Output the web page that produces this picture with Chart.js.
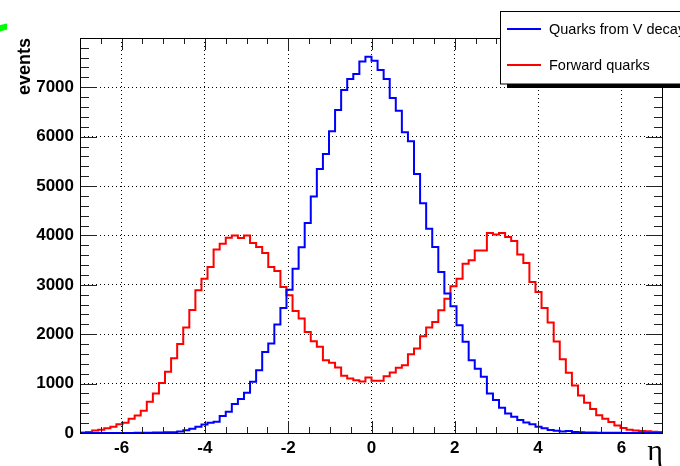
<!DOCTYPE html>
<html>
<head>
<meta charset="utf-8">
<script src="https://cdn.jsdelivr.net/npm/chart.js@4.4.1/dist/chart.umd.min.js"></script>
<style>
  html, body { margin: 0; padding: 0; background: #fff; }
  #wrap { width: 680px; height: 466px; position: relative; }
</style>
</head>
<body>
<div id="wrap"><canvas id="myChart" width="680" height="466"></canvas></div>
<script>
// histogram binning (eta from -7 to 7)
const etaMin = -7;
const etaMax = 7;
const nBins = 96;

// events per bin
const quarksFromV = [
    0, 0, 0, 0, 1, 1, 1, 2, 2, 3,
    4, 5, 9, 11, 13, 15, 28, 55, 88,
    128, 170, 210, 230, 345, 430, 585, 690, 815, 1036, 1270, 1640, 1810, 2195, 2530, 2900, 3325, 3760, 4250,
    4788, 5347, 5650, 6107, 6539, 6943, 7165, 7266, 7522, 7616, 7535, 7347, 7165, 6781, 6525, 6087, 5905, 5246, 4653, 4135,
    3764, 3259, 2822, 2566, 2182, 1845, 1475, 1300, 1138, 801, 667, 512, 397, 330, 263, 215, 175, 128, 94,
    61, 45, 30, 42, 20, 14, 10, 8, 6, 5, 4, 3, 2, 2, 1, 1, 1, 0, 0
];
const forwardQuarks = [
    12, 18, 50, 65, 95, 125, 175, 210, 290, 355, 448, 633, 800, 1012, 1240, 1513, 1802, 2138, 2488,
    2889, 3125, 3360, 3717, 3832, 3953, 4000, 3946, 4000, 3845, 3764, 3643, 3360, 3279, 2956, 2788, 2471, 2317, 2047,
    1860, 1745, 1475, 1420, 1327, 1158, 1105, 1070, 1044, 1125, 1057, 1057, 1150, 1226, 1320, 1374, 1596, 1711, 1960, 2135,
    2249, 2485, 2720, 2970, 3125, 3428, 3495, 3697, 3697, 4047, 4020, 4047, 3966, 3886, 3616, 3441, 3057, 2855, 2532,
    2236, 1852, 1495, 1219, 960, 760, 610, 485, 360, 290, 225, 150, 100, 65, 50, 40, 35, 25, 20
];

const seriesNames = ['Quarks from V decay', 'Forward quarks'];
const xTicks = [-6, -4, -2, 0, 2, 4, 6];
const yTicks = [0, 1000, 2000, 3000, 4000, 5000, 6000, 7000];
const yMax = 7997;

const labelFont = '"Liberation Sans", Arial, sans-serif';

// bin contents -> step outline points at the low edge of each bin
const toSteps = (values) => {
    const w = (etaMax - etaMin) / nBins;
    const pts = values.map((v, i) => ({ x: etaMin + i * w, y: v }));
    pts.push({ x: etaMax, y: values[values.length - 1] });
    return pts;
};

const rootStyle = {
    id: 'rootStyle',
    afterDatasetsDraw(chart) {
        const ctx = chart.ctx;
        const a = chart.chartArea;
        const xs = chart.scales.x;
        const ys = chart.scales.y;
        ctx.save();
        ctx.strokeStyle = '#222';
        ctx.lineWidth = 1;
        ctx.beginPath();
        // x ticks (bottom + top)
        for (let v = -6.5; v <= 6.5; v += 0.5) {
            const px = Math.round(xs.getPixelForValue(v)) + 0.5;
            const len = (v % 2 === 0) ? 12 : 6;
            ctx.moveTo(px, a.bottom);
            ctx.lineTo(px, a.bottom - len);
            ctx.moveTo(px, a.top);
            ctx.lineTo(px, a.top + len);
        }
        // y ticks (left + right)
        for (let v = 0; v <= 7800; v += 200) {
            const py = Math.round(ys.getPixelForValue(v)) + 0.5;
            const len = (v % 1000 === 0) ? 17 : 9;
            ctx.moveTo(a.left, py);
            ctx.lineTo(a.left + len, py);
            ctx.moveTo(a.right, py);
            ctx.lineTo(a.right - len, py);
        }
        ctx.stroke();
        ctx.strokeStyle = '#000';
        ctx.strokeRect(a.left + 0.5, a.top + 0.5, a.right - a.left - 1, a.bottom - a.top);
        ctx.restore();
    },
    afterDraw(chart) {
        const ctx = chart.ctx;
        ctx.save();

        // green mark in the corner
        ctx.fillStyle = '#00ff00';
        ctx.beginPath();
        ctx.moveTo(0, 25);
        ctx.lineTo(7, 23.5);
        ctx.lineTo(7, 29.5);
        ctx.lineTo(0, 31.5);
        ctx.closePath();
        ctx.fill();

        // legend with shadow
        ctx.fillStyle = '#000';
        ctx.fillRect(507, 84, 200, 4);
        ctx.fillStyle = '#fff';
        ctx.fillRect(500.5, 11.5, 200, 72.5);
        ctx.strokeStyle = '#000';
        ctx.lineWidth = 1;
        ctx.strokeRect(500.5, 11.5, 200, 72.5);

        const colors = ['#0000ff', '#ff0000'];
        const rows = [29, 65];
        ctx.font = '14.5px ' + labelFont;
        ctx.textBaseline = 'middle';
        ctx.textAlign = 'left';
        seriesNames.forEach((name, i) => {
            ctx.strokeStyle = colors[i];
            ctx.lineWidth = 2;
            ctx.beginPath();
            ctx.moveTo(507, rows[i]);
            ctx.lineTo(541, rows[i]);
            ctx.stroke();
            ctx.fillStyle = '#000';
            ctx.fillText(name, 549, rows[i] + 1);
        });

        // axis titles
        ctx.fillStyle = '#000';
        ctx.font = 'bold 18px ' + labelFont;
        ctx.translate(30, 38);
        ctx.rotate(-Math.PI / 2);
        ctx.textAlign = 'right';
        ctx.textBaseline = 'alphabetic';
        ctx.fillText('events', 0, 0);
        ctx.setTransform(1, 0, 0, 1, 0, 0);

        ctx.font = '30px "Liberation Serif", "DejaVu Serif", serif';
        ctx.textAlign = 'right';
        ctx.fillText('\u03b7', 663, 460);
        ctx.restore();
    }
};

const ctx = document.getElementById('myChart').getContext('2d');
window.grafica = new Chart(ctx, {
    type: 'line',
    data: {
        datasets: [{
            label: seriesNames[0],
            data: toSteps(quarksFromV),
            borderColor: '#0000ff',
            borderWidth: 2,
            stepped: true,
            pointRadius: 0,
            fill: false
        }, {
            label: seriesNames[1],
            data: toSteps(forwardQuarks),
            borderColor: '#ff0000',
            borderWidth: 2,
            stepped: true,
            pointRadius: 0,
            fill: false
        }]
    },
    options: {
        responsive: false,
        animation: false,
        layout: { padding: { left: 0, top: 38, right: 17, bottom: 0 } },
        plugins: {
            legend: { display: false },
            tooltip: { enabled: false }
        },
        scales: {
            x: {
                type: 'linear',
                min: etaMin,
                max: etaMax,
                afterBuildTicks: (s) => { s.ticks = xTicks.map(v => ({ value: v })); },
                afterFit: (s) => { s.height = 33; },
                ticks: {
                    color: '#000',
                    font: { family: labelFont, size: 17, weight: 'bold' },
                    padding: 5,
                    maxRotation: 0,
                    autoSkip: false,
                    callback: (v) => String(v)
                },
                grid: { color: '#000', lineWidth: 1, drawTicks: false },
                border: { display: false, dash: [1, 3] }
            },
            y: {
                min: 0,
                max: yMax,
                afterBuildTicks: (s) => { s.ticks = yTicks.map(v => ({ value: v })); },
                afterFit: (s) => { s.width = 80; },
                ticks: {
                    color: '#000',
                    font: { family: labelFont, size: 17, weight: 'bold' },
                    padding: 6,
                    autoSkip: false,
                    callback: (v) => String(v)
                },
                grid: { color: '#000', lineWidth: 1, drawTicks: false },
                border: { display: false, dash: [1, 3] }
            }
        }
    },
    plugins: [rootStyle]
});
</script>
</body>
</html>
